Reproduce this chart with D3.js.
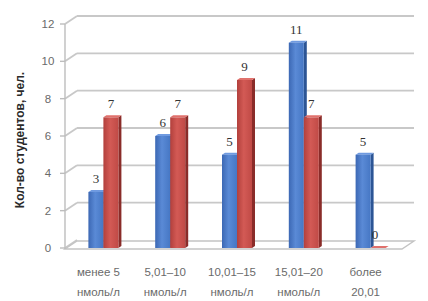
<!DOCTYPE html>
<html>
<head>
<meta charset="utf-8">
<script src="https://cdn.jsdelivr.net/npm/d3@7"></script>
<style>
  html, body { margin: 0; padding: 0; background: #fff; }
  svg { display: block; }
</style>
</head>
<body>
<svg id="chart" width="428" height="301"></svg>
<script>
// data
const categories = ["менее 5|нмоль/л", "5,01–10|нмоль/л", "10,01–15|нмоль/л", "15,01–20|нмоль/л", "более|20,01"];
const seriesNames = ["blue", "red"];
const blueValues = [3, 6, 5, 11, 5];
const redValues  = [7, 7, 9, 7, 0];
const yTicks = [0, 2, 4, 6, 8, 10, 12];
const yTitle = "Кол-во студентов, чел.";

const svg = d3.select("#chart");

// scales
const y = d3.scaleLinear().domain([0, 12]).range([248, 24]);
const x = d3.scaleBand().domain(categories).range([70, 404]);
const xs = d3.scaleBand().domain(seriesNames).range([-15, 15]);

// 3d depth of the walls / floor
const dx = 12, dy = -8;
const axisX = 65, rightX = 402;

// gradients
const defs = svg.append("defs");
function grad(id, stops) {
  const g = defs.append("linearGradient").attr("id", id)
    .attr("x1", "0%").attr("x2", "100%").attr("y1", "0%").attr("y2", "0%");
  stops.forEach(([o, c]) => g.append("stop").attr("offset", o).attr("stop-color", c));
}
grad("gBlue", [["0%", "#3c68b4"], ["45%", "#5a8ad6"], ["100%", "#4677c4"]]);
grad("gRed",  [["0%", "#b2403c"], ["45%", "#d35a55"], ["100%", "#c04a46"]]);

// walls: gridlines on back wall and diagonal side lines
const grid = svg.append("g");
yTicks.forEach(t => {
  const yy = y(t);
  grid.append("line")
    .attr("x1", axisX).attr("y1", yy).attr("x2", axisX + dx).attr("y2", yy + dy)
    .attr("stroke", "#c8c8c8").attr("stroke-width", 1.8);
  if (t > 0) {
    grid.append("line")
      .attr("x1", axisX + dx).attr("y1", yy + dy).attr("x2", rightX + dx).attr("y2", yy + dy)
      .attr("stroke", "#c8c8c8").attr("stroke-width", 1.8);
  }
});

// floor
svg.append("path")
  .attr("d", `M${axisX},${y(0) + 1} L${rightX},${y(0) + 1} L${rightX + dx},${y(0) + dy + 1} L${axisX + dx},${y(0) + dy + 1} Z`)
  .attr("fill", "#fff").attr("stroke", "#c4c4c4").attr("stroke-width", 1.4);

// y axis line + ticks
svg.append("line")
  .attr("x1", axisX).attr("x2", axisX).attr("y1", y(12)).attr("y2", y(0) + 1)
  .attr("stroke", "#bdbdbd").attr("stroke-width", 1.4);
svg.selectAll("line.tick").data(yTicks).enter().append("line")
  .attr("class", "tick")
  .attr("x1", axisX - 5).attr("x2", axisX).attr("y1", d => y(d)).attr("y2", d => y(d))
  .attr("stroke", "#bdbdbd").attr("stroke-width", 1.4);
svg.selectAll("text.ytick").data(yTicks).enter().append("text")
  .attr("class", "ytick")
  .attr("x", 48).attr("y", d => y(d) + 4)
  .attr("text-anchor", "middle")
  .attr("font-family", "Liberation Sans, Arial, sans-serif")
  .attr("font-size", 11.5).attr("fill", "#6a6a6a")
  .text(d => d);

// y title
svg.append("text")
  .attr("transform", "translate(24,140) rotate(-90)")
  .attr("text-anchor", "middle")
  .attr("font-family", "Liberation Sans, Arial, sans-serif")
  .attr("font-size", 12).attr("font-weight", "bold").attr("fill", "#2a2a2a")
  .text(yTitle);

// bars
const bw = xs.bandwidth();
const bdx = 3, bdy = -2;
const rows = [];
categories.forEach((c, i) => {
  rows.push({ cat: c, s: "blue", v: blueValues[i] });
  rows.push({ cat: c, s: "red", v: redValues[i] });
});
const colors = {
  blue: { front: "url(#gBlue)", side: "#2c5595", top: "#6f9ae0" },
  red:  { front: "url(#gRed)",  side: "#8a2c29", top: "#e0716c" }
};
const bars = svg.append("g").selectAll("g.bar").data(rows).enter().append("g").attr("class", "bar");
bars.each(function (d) {
  const g = d3.select(this);
  const x0 = x(d.cat) + x.bandwidth() / 2 + xs(d.s);
  const x1 = x0 + bw;
  const yt = y(d.v), yb = y(0);
  const col = colors[d.s];
  g.append("path")
    .attr("d", `M${x1},${yt} L${x1 + bdx},${yt + bdy} L${x1 + bdx},${yb + bdy} L${x1},${yb} Z`)
    .attr("fill", col.side);
  g.append("path")
    .attr("d", `M${x0},${yt} L${x0 + bdx},${yt + bdy} L${x1 + bdx},${yt + bdy} L${x1},${yt} Z`)
    .attr("fill", col.top);
  g.append("rect")
    .attr("x", x0).attr("y", yt).attr("width", bw).attr("height", Math.max(0, yb - yt))
    .attr("fill", col.front);
});

// value labels
svg.append("g").selectAll("text").data(rows).enter().append("text")
  .attr("x", d => x(d.cat) + x.bandwidth() / 2 + xs(d.s) + bw / 2 - (d.v === 0 ? 3 : 0))
  .attr("y", d => y(d.v) - 9)
  .attr("text-anchor", "middle")
  .attr("font-family", "Liberation Serif, Times New Roman, serif")
  .attr("font-size", 13).attr("fill", "#333")
  .text(d => d.v);

// category labels
const xl = svg.append("g").selectAll("text").data(categories).enter().append("text")
  .attr("x", d => x(d) + x.bandwidth() / 2 - 5)
  .attr("y", 276)
  .attr("text-anchor", "middle")
  .attr("font-family", "Liberation Sans, Arial, sans-serif")
  .attr("font-size", 11.5).attr("fill", "#6a6a6a");
xl.each(function (d) {
  const parts = d.split("|");
  const t = d3.select(this);
  parts.forEach((p, i) => {
    t.append("tspan").attr("x", x(d) + x.bandwidth() / 2 - 5).attr("dy", i === 0 ? 0 : 20).text(p);
  });
});
</script>
</body>
</html>
